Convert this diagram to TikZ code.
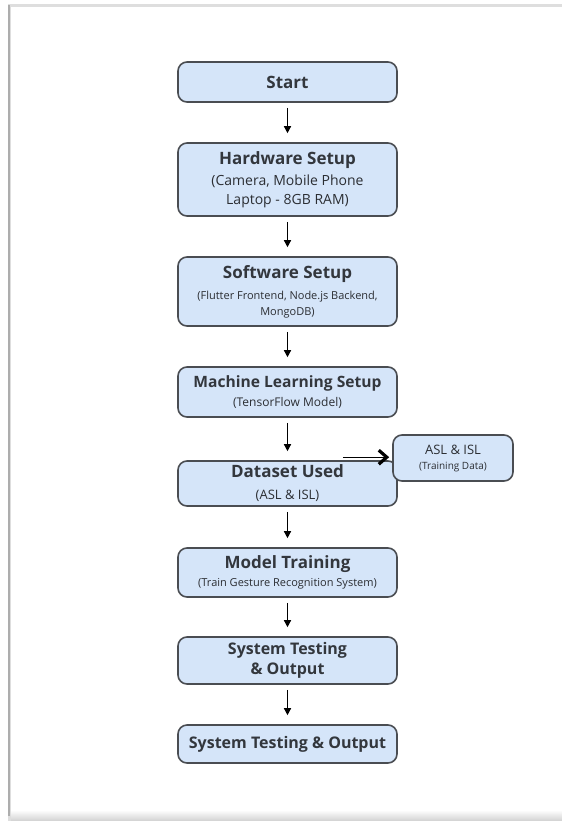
\documentclass[tikz,border=0pt]{standalone}
\usepackage{fontspec}
\setmainfont{Open Sans}
\usetikzlibrary{arrows.meta}
\definecolor{boxfill}{HTML}{D5E5F9}
\definecolor{boxline}{HTML}{4A4D52}
\definecolor{inktext}{HTML}{2B2E33}
\definecolor{titletext}{HTML}{33373D}
\newcommand{\fsz}[1]{\fontsize{#1}{#1}\selectfont}
\newcommand{\titlefont}{\bfseries\color{titletext}}
\tikzset{
  stagebox/.style={draw=boxline, fill=boxfill, line width=0.8pt, rounded corners=4.5pt,
    minimum width=109.5pt, inner sep=0pt, align=center, text=inktext, font=\fsz{5}},
  flow/.style={-{Triangle[length=3.5pt,width=3.5pt]}, line width=0.7pt,
    shorten <=2.5pt, shorten >=4.5pt},
  sideflow/.style={-{Straight Barb[length=4pt,width=7pt,line width=1.6pt]}, line width=0.7pt,
    shorten >=1.5pt}
}
\begin{document}
\begin{tikzpicture}[x=0.5pt,y=-0.5pt]
  \useasboundingbox (0,0) rectangle (562,821);
  \fill[black!13] (8,4) rectangle (562,821);
  \fill[white] (11,7) rectangle (562,812);
  \shade[top color=white, bottom color=black!18] (11,810) rectangle (562,821);
  \draw[black!32, line width=0.9pt] (9,5) -- (9,816);

  \node[stagebox, minimum height=20pt] (start) at (287.5,82) {\fsz{8.5}\titlefont Start};
  \node[stagebox, minimum height=36.5pt] (hardware) at (287.5,179.5)
    {\fsz{8.5}\titlefont Hardware Setup\\[2.5pt]\fsz{7}(Camera, Mobile Phone\\[2pt]\fsz{7}Laptop - 8GB RAM)};
  \node[stagebox, minimum height=34.5pt] (software) at (287.5,291.5)
    {\fsz{8.5}\titlefont Software Setup\\[3.5pt]\fsz{5.5}(Flutter Frontend, Node.js Backend,\\[1.5pt]\fsz{5.5}MongoDB)};
  \node[stagebox, minimum height=25pt] (mlsetup) at (287.5,392)
    {\fsz{7.8}\titlefont Machine Learning Setup\\[2.5pt]\fsz{6}(TensorFlow Model)};
  \node[stagebox, minimum height=22.5pt] (dataset) at (287.5,483.5)
    {\fsz{8.5}\titlefont Dataset Used\\[6pt]\fsz{6.5}(ASL \& ISL)};
  \node[stagebox, minimum width=60pt, minimum height=23pt] (trainset) at (453,458)
    {\fsz{6.5}ASL \& ISL\\[2.5pt]\fsz{5}(Training Data)};
  \node[stagebox, minimum height=24.5pt] (training) at (287.5,572.5)
    {\fsz{8.5}\titlefont Model Training\\[2pt]\fsz{5.5}(Train Gesture Recognition System)};
  \node[stagebox, minimum height=23.5pt] (testing) at (287.5,660.5)
    {\fsz{8}\titlefont System Testing\\[1.5pt]\fsz{8}\titlefont \& Output};
  \node[stagebox, minimum height=19pt] (output) at (287.5,744)
    {\fsz{8}\titlefont System Testing \& Output};

  \draw[flow] (start) -- (hardware);
  \draw[flow] (hardware) -- (software);
  \draw[flow] (software) -- (mlsetup);
  \draw[flow] (mlsetup) -- (dataset);
  \draw[flow] (dataset) -- (training);
  \draw[flow] (training) -- (testing);
  \draw[flow] (testing) -- (output);
  \coordinate (tap) at ([shift={(-55,-3)}]dataset.north east);
  \draw[sideflow] (tap) -- (tap -| trainset.west);
\end{tikzpicture}
\end{document}
